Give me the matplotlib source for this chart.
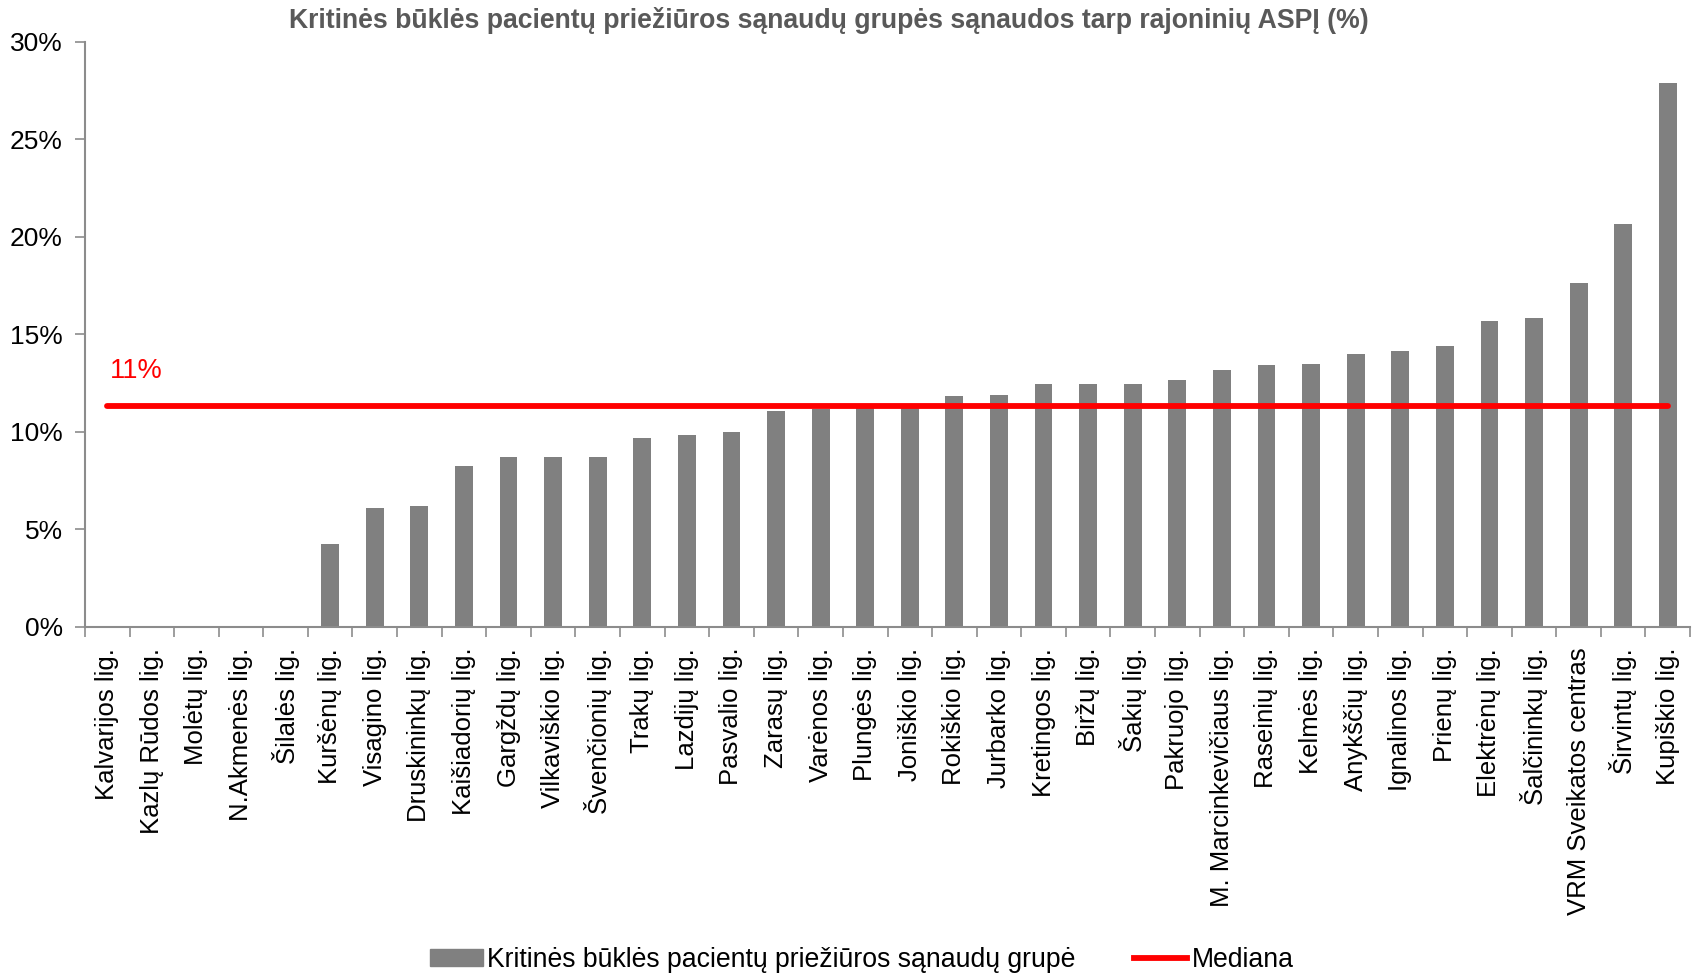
import numpy as np
import matplotlib
matplotlib.use("Agg")
import matplotlib.pyplot as plt
from matplotlib.patches import Patch
from matplotlib.lines import Line2D
from matplotlib.ticker import PercentFormatter

plt.rcParams["font.family"] = ["Liberation Sans", "DejaVu Sans"]

# ---- data ----
HOSPITALS = ["Kalvarijos lig.", "Kazlų Rūdos lig.", "Molėtų lig.", "N.Akmenės lig.",
             "Šilalės lig.", "Kuršėnų lig.", "Visagino lig.", "Druskininkų lig.",
             "Kaišiadorių lig.", "Gargždų lig.", "Vilkaviškio lig.", "Švenčionių lig.",
             "Trakų lig.", "Lazdijų lig.", "Pasvalio lig.", "Zarasų lig.",
             "Varėnos lig.", "Plungės lig.", "Joniškio lig.", "Rokiškio lig.",
             "Jurbarko lig.", "Kretingos lig.", "Biržų lig.", "Šakių lig.",
             "Pakruojo lig.", "M. Marcinkevičiaus lig.", "Raseinių lig.", "Kelmės lig.",
             "Anykščių lig.", "Ignalinos lig.", "Prienų lig.", "Elektrėnų lig.",
             "Šalčininkų lig.", "VRM Sveikatos centras", "Širvintų lig.", "Kupiškio lig."]

SHARE = [0, 0, 0, 0, 0, 4.25, 6.08, 6.2, 8.24, 8.7, 8.74, 8.72,
         9.71, 9.85, 10.02, 11.08, 11.16, 11.3, 11.32, 11.86,
         11.88, 12.46, 12.46, 12.48, 12.65, 13.2, 13.45, 13.5,
         14.0, 14.13, 14.42, 15.67, 15.87, 17.64, 20.67, 27.9]

MEDIAN = 11.32
MEDIAN_LABEL = "11%"

GRAY = "#808080"
AXIS_GRAY = "#8c8c8c"

fig = plt.figure(figsize=(16.96, 9.76), dpi=100)
ax = fig.add_axes([0.0501, 0.3576, 0.9464, 0.5994])

x = np.arange(len(HOSPITALS))
ax.bar(x, SHARE, width=0.4, color=GRAY, zorder=2)
ax.plot([x[0], x[-1]], [MEDIAN, MEDIAN], color="#ff0000", lw=4.2,
        solid_capstyle="round", zorder=3)
ax.text(x[0] + 0.05, MEDIAN + 1.8, MEDIAN_LABEL, color="#ff0000",
        fontsize=19.5, ha="left", va="center")

ax.set_xlim(-0.5, len(HOSPITALS) - 0.5)
ax.set_ylim(0, 30)
ax.set_yticks(np.arange(0, 31, 5))
ax.yaxis.set_major_formatter(PercentFormatter(decimals=0))

ax.set_xticks(x)
ax.set_xticklabels(HOSPITALS, rotation=90, fontsize=18.5)
ax.set_xticks(np.arange(-0.5, len(HOSPITALS)), minor=True)
ax.tick_params(axis="x", which="major", length=0, pad=15)
ax.tick_params(axis="x", which="minor", length=7, color=AXIS_GRAY, width=1.2)
ax.tick_params(axis="y", length=7, color=AXIS_GRAY, width=1.2, labelsize=19, pad=9)

for s in ["top", "right"]:
    ax.spines[s].set_visible(False)
for s in ["left", "bottom"]:
    ax.spines[s].set_color(AXIS_GRAY)
    ax.spines[s].set_linewidth(1.5)

fig.text(0.489, 0.979, "Kritinės būklės pacientų priežiūros sąnaudų grupės sąnaudos tarp rajoninių ASPĮ (%)",
         ha="center", va="center", fontsize=19.2, fontweight="bold", color="#595959")

handles = [Patch(color=GRAY), Line2D([0], [0], color="#ff0000", lw=4.2)]
labels = ["Kritinės būklės pacientų priežiūros sąnaudų grupė", "Mediana"]
fig.legend(handles, labels, loc="center", bbox_to_anchor=(0.508, 0.0165), ncol=2,
           frameon=False, fontsize=19.2, handlelength=2.0, handleheight=0.6,
           handletextpad=0.15, columnspacing=2.2, borderpad=0)

fig.savefig("out.png", dpi=100)
